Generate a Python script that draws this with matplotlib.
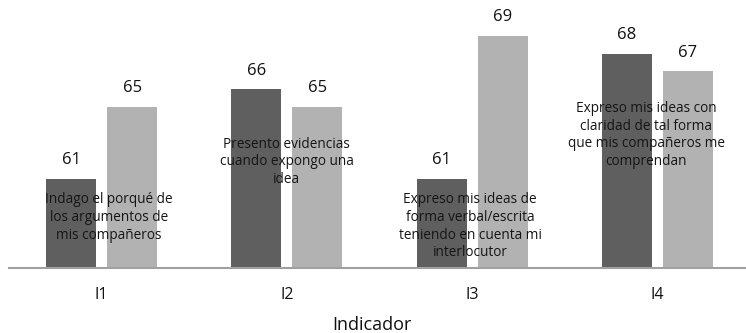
import matplotlib.pyplot as plt
import numpy as np

plt.rcParams['font.family'] = ['Open Sans', 'DejaVu Sans']

categorias = ['I1', 'I2', 'I3', 'I4']
serie_a = [61, 66, 61, 68]
serie_b = [65, 65, 69, 67]
descripciones = [
    'Indago el porqué de\nlos argumentos de\nmis compañeros',
    'Presento evidencias\ncuando expongo una\nidea',
    'Expreso mis ideas de\nforma verbal/escrita\nteniendo en cuenta mi\ninterlocutor',
    'Expreso mis ideas con\nclaridad de tal forma\nque mis compañeros me\ncomprendan',
]

# where each description sits (data coords)
desc_x = [0.04, 1.0, 1.99, 2.94]
desc_y = [58.83, 61.94, 58.33, 63.44]

W, H = 746, 333
fig = plt.figure(figsize=(W / 100, H / 100), dpi=100)
ax = fig.add_axes([9 / W, (H - 268) / H, 741 / W, 268 / H])

x = np.arange(len(categorias))
off = 0.165
w = 0.27
b1 = ax.bar(x - off, np.array(serie_a) - 56, w, bottom=56, color='#5f5f5f')
b2 = ax.bar(x + off, np.array(serie_b) - 56, w, bottom=56, color='#b2b2b2')

for bars, vals in ((b1, serie_a), (b2, serie_b)):
    for r, v in zip(bars, vals):
        ax.text(r.get_x() + r.get_width() / 2, v + 0.6, str(v),
                ha='center', va='bottom', fontsize=12, color='#111111')

for t, tx, ty in zip(descripciones, desc_x, desc_y):
    ax.text(tx, ty, t, ha='center', va='center', fontsize=9.8,
            color='#151515', linespacing=1.25)

ax.set_xlim(-0.5, 3.5)
ax.set_ylim(56, 71.0)
ax.set_yticks([])
ax.set_xticks(x)
ax.set_xticklabels(categorias, fontsize=11.5, color='#111111')
ax.tick_params(axis='x', length=0, pad=14)
for s in ('top', 'right', 'left'):
    ax.spines[s].set_visible(False)
ax.spines['bottom'].set_color('#a0a0a0')
ax.spines['bottom'].set_linewidth(1.5)

fig.text(372 / W, 1 - 325 / H, 'Indicador', ha='center', va='center',
         fontsize=13, color='#111111')

fig.savefig('out.png', dpi=100)
